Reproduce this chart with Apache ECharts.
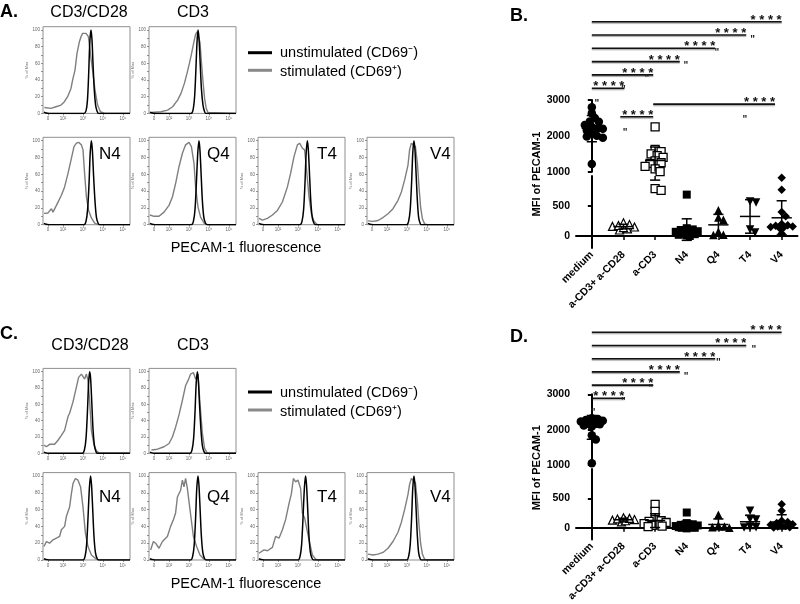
<!DOCTYPE html>
<html><head><meta charset="utf-8">
<script src="https://cdn.jsdelivr.net/npm/echarts@6/dist/echarts.min.js"></script>
<style>html,body{margin:0;padding:0;background:#fff}#c{width:800px;height:604px}</style>
</head><body><div id="c"></div><script>
const FONT = "'Liberation Sans', Arial, Helvetica, sans-serif";

// ---------------- Histogram data: [position in decades (0 ->"0", 1->10^2 ... 4->10^5), % of Max]
const histTickVals = [0.25, 1, 2, 3, 4];
const histTickLabels = ['0', '10²', '10³', '10⁴', '10⁵'];
const histYTicks = [0, 20, 40, 60, 80, 100];

const A_CD3CD28_stim = [[0.07,7],[0.4,6],[0.65,8],[0.9,10],[1.07,14],[1.23,20],[1.4,30],[1.48,40],[1.6,52],[1.7,72],[1.82,86],[1.9,92],[1.98,96],[2.07,98],[2.15,96],[2.2,98],[2.27,92],[2.33,80],[2.4,66],[2.5,48],[2.6,28],[2.73,10],[2.87,2],[3.07,0],[4.35,0]];
const A_CD3CD28_unst = [[0.05,1.5],[0.15,0.5],[0.3,0],[2.05,0],[2.15,3],[2.22,15],[2.28,45],[2.34,85],[2.4,100],[2.45,88],[2.5,60],[2.56,30],[2.63,10],[2.7,3],[2.78,0],[4.35,0]];
const A_CD3_stim = [[0.1,1],[0.6,2],[0.93,4],[1.18,8],[1.43,16],[1.6,24],[1.77,36],[1.9,48],[2.02,60],[2.13,72],[2.23,84],[2.32,94],[2.4,98],[2.48,97],[2.55,85],[2.62,62],[2.7,38],[2.78,18],[2.86,6],[2.95,1],[3.05,0],[4.35,0]];
const A_CD3_unst = [[0.05,1.5],[0.15,0.5],[0.3,0],[2.1,0],[2.2,4],[2.28,20],[2.34,50],[2.4,85],[2.45,100],[2.5,90],[2.56,60],[2.62,30],[2.7,10],[2.78,2],[2.85,0],[4.35,0]];
const A_N4_stim = [[0.05,13.5],[0.25,14],[0.42,19],[0.5,15],[0.67,23],[0.92,35],[1.08,45],[1.25,61],[1.42,79],[1.55,93],[1.67,97],[1.78,98],[1.92,95],[2.0,89],[2.08,61],[2.17,33],[2.28,17],[2.42,8],[2.58,2],[2.75,0],[4.35,0]];
const A_N4_unst = [[0.05,1.5],[0.15,0.5],[0.3,0],[2.05,0],[2.15,4],[2.23,18],[2.3,48],[2.36,85],[2.42,100],[2.47,88],[2.53,58],[2.6,28],[2.67,9],[2.75,2],[2.83,0],[4.35,0]];
const A_Q4_stim = [[0.05,11.5],[0.25,10],[0.5,10],[0.75,15],[1.0,23],[1.17,33],[1.33,49],[1.5,69],[1.67,85],[1.83,95],[2.0,98],[2.12,93],[2.25,73],[2.33,45],[2.45,21],[2.58,9],[2.75,2],[2.92,0],[4.35,0]];
const A_Q4_unst = [[0.05,1.5],[0.15,0.5],[0.3,0],[2.12,0],[2.22,4],[2.3,18],[2.37,50],[2.44,86],[2.5,100],[2.55,88],[2.61,58],[2.67,28],[2.74,9],[2.82,2],[2.9,0],[4.35,0]];
const A_T4_stim = [[0.05,7.5],[0.22,5.5],[0.47,7.5],[0.72,11.5],[0.97,17],[1.22,27],[1.47,45],[1.63,61],[1.8,81],[1.97,95],[2.08,97],[2.22,91],[2.33,89],[2.43,65],[2.55,33],[2.67,13],[2.8,4],[2.97,0],[4.35,0]];
const A_T4_unst = [[0.05,1.5],[0.15,0.5],[0.3,0],[2.1,0],[2.2,4],[2.28,18],[2.35,50],[2.41,86],[2.47,100],[2.52,88],[2.58,58],[2.64,28],[2.71,9],[2.79,2],[2.87,0],[4.35,0]];
const A_V4_stim = [[0.05,4.5],[0.3,4],[0.55,5],[0.8,8.5],[1.05,13],[1.3,19],[1.55,29],[1.72,39],[1.88,53],[2.05,71],[2.13,89],[2.22,97],[2.3,98],[2.42,93],[2.52,73],[2.6,45],[2.68,21],[2.77,7],[2.88,1],[3.0,0],[4.35,0]];
const A_V4_unst = [[0.05,1.5],[0.15,0.5],[0.3,0],[1.98,0],[2.08,4],[2.16,18],[2.23,50],[2.29,86],[2.35,100],[2.4,88],[2.46,58],[2.52,28],[2.58,9],[2.65,2],[2.72,0],[4.35,0]];

const C_CD3CD28_stim = [[0.05,10],[0.17,8],[0.33,11],[0.58,11],[0.75,16],[0.92,22],[1.08,28],[1.25,45],[1.33,49],[1.5,63],[1.67,81],[1.78,93],[1.92,97],[2.0,94],[2.08,91],[2.17,97],[2.25,89],[2.33,65],[2.42,28],[2.55,10],[2.67,3],[2.83,0],[4.35,0]];
const C_CD3CD28_unst = [[0.05,1.5],[0.15,0.5],[0.3,0],[1.97,0],[2.07,4],[2.15,18],[2.22,50],[2.28,86],[2.33,100],[2.38,92],[2.44,62],[2.5,30],[2.57,10],[2.65,2],[2.73,0],[4.35,0]];
const C_CD3_stim = [[0.12,4],[0.42,5],[0.75,8],[1.0,12],[1.17,20],[1.33,32],[1.5,47],[1.67,65],[1.83,83],[1.95,89],[2.08,97],[2.22,99],[2.33,91],[2.45,97],[2.55,61],[2.67,24],[2.78,6],[2.92,0],[4.35,0]];
const C_CD3_unst = [[0.05,1.5],[0.15,0.5],[0.3,0],[2.05,0],[2.15,4],[2.23,18],[2.3,50],[2.36,86],[2.42,100],[2.47,88],[2.53,58],[2.6,28],[2.67,9],[2.75,2],[2.83,0],[4.35,0]];
const C_N4_stim = [[0.05,16],[0.17,22],[0.33,20],[0.5,24],[0.67,26],[0.83,28],[0.92,36],[1.08,40],[1.17,52],[1.33,63],[1.42,79],[1.5,91],[1.62,97],[1.75,95],[1.88,87],[2.0,63],[2.12,32],[2.25,16],[2.42,6],[2.67,1],[2.8,0],[4.35,0]];
const C_N4_unst = [[0.05,1.5],[0.15,0.5],[0.3,0],[2.0,0],[2.1,4],[2.18,18],[2.25,50],[2.32,86],[2.38,100],[2.43,88],[2.49,58],[2.55,28],[2.62,9],[2.7,2],[2.78,0],[4.35,0]];
const C_Q4_stim = [[0.08,12],[0.22,22],[0.33,20],[0.5,14],[0.67,22],[0.92,28],[1.08,40],[1.22,48],[1.33,56],[1.42,75],[1.58,83],[1.67,95],[1.75,87],[1.83,97],[1.92,85],[2.05,60],[2.22,28],[2.38,16],[2.55,6],[2.75,1],[2.9,0],[4.35,0]];
const C_Q4_unst = [[0.05,1.5],[0.15,0.5],[0.3,0],[2.08,0],[2.18,4],[2.26,18],[2.33,50],[2.39,86],[2.45,100],[2.5,88],[2.56,58],[2.62,28],[2.69,9],[2.77,2],[2.85,0],[4.35,0]];
const C_T4_stim = [[0.05,8],[0.3,12],[0.47,11],[0.72,15],[0.88,28],[1.05,26],[1.22,36],[1.38,48],[1.55,67],[1.67,79],[1.77,97],[1.88,93],[2.0,95],[2.13,85],[2.22,56],[2.33,50],[2.43,48],[2.55,24],[2.72,6],[2.88,1],[3.0,0],[4.35,0]];
const C_T4_unst = [[0.05,1.5],[0.15,0.5],[0.3,0],[2.0,0],[2.1,4],[2.18,18],[2.25,50],[2.32,86],[2.38,100],[2.43,88],[2.49,58],[2.55,28],[2.62,9],[2.7,2],[2.78,0],[4.35,0]];
const C_V4_stim = [[0.05,7],[0.3,6],[0.55,7],[0.8,9],[1.05,14],[1.3,22],[1.55,33],[1.72,45],[1.88,60],[2.05,78],[2.13,90],[2.22,97],[2.3,98],[2.42,92],[2.52,70],[2.6,42],[2.68,20],[2.77,7],[2.88,1],[3.0,0],[4.35,0]];
const C_V4_unst = [[0.05,1.5],[0.15,0.5],[0.3,0],[1.98,0],[2.08,4],[2.16,18],[2.23,50],[2.29,86],[2.35,100],[2.4,88],[2.46,58],[2.52,28],[2.58,9],[2.65,2],[2.72,0],[4.35,0]];

// ---------------- Scatter data (MFI of PECAM-1)
const categories = ['medium', 'a-CD3+ a-CD28', 'a-CD3', 'N4', 'Q4', 'T4', 'V4'];
const B_medium = [2800, 2630, 2500, 2400, 2390, 2300, 2250, 2210, 2200, 2150, 2070, 2000, 1980, 1950, 1215];
const B_cd3cd28 = [100, 120, 140, 150, 160, 175, 190, 220];
const B_cd3 = [2250, 1620, 1560, 1500, 1450, 1400, 1300, 1250, 1230, 1150, 1080, 1000, 790, 760];
const B_N4 = [690, 130, 110, 100, 80, 70, 60, 50, 40, 30, 20, 10, 0];
const B_Q4 = [430, 310, 270, 70, 20, 15];
const B_T4 = [575, 560, 110, 60];
const B_V4 = [970, 770, 400, 330, 200, 180, 170, 160, 150, 140, 130, 40];

const D_medium = [2320, 2300, 2270, 2250, 2230, 2210, 2190, 2170, 2150, 2120, 2090, 1840, 1720, 1050];
const D_cd3cd28 = [100, 120, 130, 140, 150, 160, 170];
const D_cd3 = [400, 280, 140, 120, 110, 90, 70, 50, 40, 30, 20];
const D_N4 = [260, 80, 60, 50, 40, 30, 30, 20, 10, 10, 0, 0, -10];
const D_Q4 = [220, 40, 20, 10, 0];
const D_T4 = [290, 150, 140, 20, 10, 5];
const D_V4 = [400, 290, 120, 100, 80, 60, 50, 40, 30, 20, 10, 5];

// significance brackets: [from category, to category, level]
const B_brackets = [[0, 6.0, 0], [0, 4.88, 1], [0, 3.9, 2], [0, 2.78, 3], [0, 1.94, 4], [0, 1.03, 5], [1.94, 5.79, 6.2], [0.9, 1.94, 7.15]];
const D_brackets = [[0, 6.0, 0], [0, 4.88, 1], [0, 3.9, 2], [0, 2.78, 3], [0, 1.94, 4], [0, 1.03, 5]];
const B_quotes = [[0.16, 6.02], [1.0, 4.93], [1.74, 4.08], [2.97, 3.13], [3.95, 2.18], [5.08, 1.17], [1.05, 8.14], [4.84, 7.19]];
const D_quotes = [[5.12, 1.17], [4.0, 2.17], [2.98, 3.23], [1.87, 4.07], [1.0, 5.05], [0.04, 5.89]];

// ---------------- build option
const grid = [], xAxis = [], yAxis = [], series = [], graphic = [];

function histLabel(v) {
  let best = 0;
  histTickVals.forEach((t, i) => { if (Math.abs(t - v) < Math.abs(histTickVals[best] - v)) best = i; });
  return histTickLabels[best];
}

function addHist(left, top, height, stim, unst) {
  const gi = grid.length;
  grid.push({left: left, top: top, width: 87, height: height, show: true, borderColor: '#8f8f8f', borderWidth: 1});
  const xi = xAxis.length, yi = yAxis.length;
  xAxis.push({type: 'value', gridIndex: gi, min: 0, max: 4.35, splitLine: {show: false}, axisLine: {show: false},
    axisTick: {show: true, customValues: histTickVals, length: 2, lineStyle: {color: '#777', width: 0.8}},
    axisLabel: {show: true, customValues: histTickVals, formatter: histLabel, fontSize: 4.5, color: '#666', margin: 3, fontFamily: FONT}});
  yAxis.push({type: 'value', gridIndex: gi, min: 0, max: 104, splitLine: {show: false}, axisLine: {show: false},
    axisTick: {show: true, customValues: [0, 10, 20, 30, 40, 50, 60, 70, 80, 90, 100], length: 2, lineStyle: {color: '#777', width: 0.8}},
    axisLabel: {show: true, customValues: histYTicks, fontSize: 4.5, color: '#666', margin: 3, fontFamily: FONT},
    name: '% of Max', nameLocation: 'middle', nameGap: 12, nameTextStyle: {fontSize: 4, color: '#777', fontFamily: FONT}});
  series.push({type: 'line', xAxisIndex: xi, yAxisIndex: yi, data: stim, showSymbol: false, silent: true,
    lineStyle: {color: '#7f7f7f', width: 1.4}, z: 2});
  series.push({type: 'line', xAxisIndex: xi, yAxisIndex: yi, data: unst, showSymbol: false, silent: true, smooth: 0.3,
    lineStyle: {color: '#000', width: 1.5}, z: 3});
}

const cols = [43, 149, 258, 367];
const histRows = [
  {top: 26.7, h: 86.7, panels: [[A_CD3CD28_stim, A_CD3CD28_unst], [A_CD3_stim, A_CD3_unst]]},
  {top: 137.3, h: 87.4, panels: [[A_N4_stim, A_N4_unst], [A_Q4_stim, A_Q4_unst], [A_T4_stim, A_T4_unst], [A_V4_stim, A_V4_unst]]},
  {top: 368.4, h: 84.9, panels: [[C_CD3CD28_stim, C_CD3CD28_unst], [C_CD3_stim, C_CD3_unst]]},
  {top: 472.6, h: 87.4, panels: [[C_N4_stim, C_N4_unst], [C_Q4_stim, C_Q4_unst], [C_T4_stim, C_T4_unst], [C_V4_stim, C_V4_unst]]}
];
histRows.forEach(r => r.panels.forEach((p, c) => addHist(cols[c], r.top, r.h, p[0], p[1])));

// ---------- scatter panels
const SC_LEFT = 576, SC_W = 221.5;
const markers = [
  {symbol: 'circle', size: 8.5, fill: '#000', bw: 0},
  {symbol: 'triangle', size: 8, fill: '#fff', bw: 1.2},
  {symbol: 'rect', size: 8, fill: '#fff', bw: 1.3},
  {symbol: 'rect', size: 8, fill: '#000', bw: 0},
  {symbol: 'triangle', size: 8.5, fill: '#000', bw: 0},
  {symbol: 'triangle', size: 8.5, fill: '#000', bw: 0, rotate: 180},
  {symbol: 'diamond', size: 8.5, fill: '#000', bw: 0}
];

function stats(a) {
  const m = a.reduce((s, v) => s + v, 0) / a.length;
  const sd = Math.sqrt(a.reduce((s, v) => s + (v - m) * (v - m), 0) / (a.length - 1));
  return [m, sd];
}

// horizontal spreading of points with equal values (bounded beeswarm)
function swarm(vals, pxOf, diam, pxPerUnit, maxOff) {
  const order = vals.map((v, i) => i).sort((a, b) => vals[b] - vals[a]);
  const placed = [], off = new Array(vals.length).fill(0);
  for (const i of order) {
    const y = pxOf(vals[i]);
    let chosen = null, bestS = 0, bestD = -1;
    for (let k = 0; k < 200; k++) {
      const s = k === 0 ? 0 : (k % 2 ? 1 : -1) * Math.ceil(k / 2);
      if (Math.abs(s) > maxOff) break;
      let dmin = Infinity;
      placed.forEach(p => { const d = Math.hypot(p.x - s, p.y - y); if (d < dmin) dmin = d; });
      if (dmin >= diam) { chosen = s; break; }
      if (dmin > bestD + 0.5) { bestD = dmin; bestS = s; }
    }
    if (chosen === null) chosen = bestS;
    placed.push({x: chosen, y: y});
    off[i] = chosen / pxPerUnit;
  }
  return off;
}

function errRender(params, api) {
  const i = api.value(0), m = api.value(1), s = api.value(2);
  const c = api.coord([i, m]), hi = api.coord([i, m + s]), lo = api.coord([i, m - s]);
  const hm = api.size([0.32, 0])[0], hc = api.size([0.16, 0])[0];
  const st = {stroke: '#000', lineWidth: 1.5};
  return {type: 'group', children: [
    {type: 'line', shape: {x1: c[0], y1: hi[1], x2: c[0], y2: lo[1]}, style: st},
    {type: 'line', shape: {x1: c[0] - hm, y1: c[1], x2: c[0] + hm, y2: c[1]}, style: st},
    {type: 'line', shape: {x1: c[0] - hc, y1: hi[1], x2: c[0] + hc, y2: hi[1]}, style: st},
    {type: 'line', shape: {x1: c[0] - hc, y1: lo[1], x2: c[0] + hc, y2: lo[1]}, style: st}
  ]};
}

function bracketRender(params, api) {
  const a = api.coord([api.value(0), api.value(2)]), b = api.coord([api.value(1), api.value(2)]);
  return {type: 'group', children: [
    {type: 'line', shape: {x1: a[0], y1: a[1], x2: b[0], y2: b[1]},
      style: {stroke: '#111', lineWidth: 1.6, shadowColor: 'rgba(0,0,0,0.35)', shadowOffsetY: 1.2, shadowBlur: 1}},
    {type: 'text', x: b[0], y: a[1] - 1.6,
      style: {text: '* * * *', fill: '#111', font: 'bold 13px ' + FONT, align: 'right', verticalAlign: 'middle'}}
  ]};
}

function quoteRender(params, api) {
  const p = api.coord([api.value(0), api.value(1)]);
  return {type: 'text', x: p[0], y: p[1] + 2.8,
    style: {text: '"', fill: '#222', font: 'bold 10px ' + FONT, align: 'center', verticalAlign: 'middle'}};
}

const plainNum = v => String(v);

function addScatter(cfg, groups, brackets, quotes) {
  // top segment (1000-3000)
  const gT = grid.length;
  grid.push({left: SC_LEFT, top: cfg.topTop, width: SC_W, height: cfg.topH});
  const xT = xAxis.length, yT = yAxis.length;
  xAxis.push({type: 'value', gridIndex: gT, min: -0.5, max: 6.5, show: false});
  yAxis.push({type: 'value', gridIndex: gT, min: 1000, max: 3000, interval: 1000, splitLine: {show: false},
    axisLine: {show: true, lineStyle: {color: '#000', width: 2}},
    axisTick: {show: true, length: 4, lineStyle: {color: '#000', width: 2}},
    axisLabel: {formatter: plainNum, color: '#000', fontWeight: 'bold', fontSize: 10.5, fontFamily: FONT, margin: 6}});
  // bottom segment (-200-1000)
  const gB = grid.length;
  grid.push({left: SC_LEFT, top: cfg.botTop, width: SC_W, height: cfg.botH});
  const xC = xAxis.length;
  xAxis.push({type: 'category', gridIndex: gB, data: categories, boundaryGap: true,
    axisLine: {show: true, lineStyle: {color: '#000', width: 2}},
    axisTick: {show: true, alignWithLabel: true, length: 4, lineStyle: {color: '#000', width: 1.5}},
    axisLabel: {interval: 0, rotate: 45, color: '#000', fontWeight: 'bold', fontSize: 10.5, fontFamily: FONT, margin: 5}});
  const xB = xAxis.length;
  xAxis.push({type: 'value', gridIndex: gB, min: -0.5, max: 6.5, show: false});
  const yB = yAxis.length;
  yAxis.push({type: 'value', gridIndex: gB, min: -200, max: 1000, splitLine: {show: false},
    axisLine: {show: true, lineStyle: {color: '#000', width: 2}},
    axisTick: {show: true, customValues: [0, 500], length: 4, lineStyle: {color: '#000', width: 2}},
    axisLabel: {customValues: [0, 500], formatter: plainNum, color: '#000', fontWeight: 'bold', fontSize: 10.5, fontFamily: FONT, margin: 6}});
  // annotation
  const gA = grid.length;
  grid.push({left: SC_LEFT, top: cfg.annTop, width: SC_W, height: cfg.annH});
  const xA = xAxis.length, yA = yAxis.length;
  xAxis.push({type: 'value', gridIndex: gA, min: -0.5, max: 6.5, show: false});
  yAxis.push({type: 'value', gridIndex: gA, min: 0, max: cfg.annMax, inverse: true, show: false});

  const pxOf = v => v >= 1000 ? cfg.topTop + (3000 - v) / 2000 * cfg.topH : cfg.botTop + (1000 - v) / 1200 * cfg.botH;
  const pxPerUnit = SC_W / 7;
  const errT = [], errB = [];
  groups.forEach((vals, i) => {
    const mk = markers[i];
    const off = swarm(vals, pxOf, 5.5, pxPerUnit, 11);
    const top = [], bot = [];
    vals.forEach((v, k) => (v >= 1000 ? top : bot).push([i + off[k], v]));
    const base = {type: 'scatter', symbol: mk.symbol, symbolSize: mk.size, symbolRotate: mk.rotate || 0, silent: true,
      itemStyle: {color: mk.fill, borderColor: '#000', borderWidth: mk.bw, opacity: 1}, z: 3};
    if (top.length) series.push(Object.assign({}, base, {xAxisIndex: xT, yAxisIndex: yT, data: top}));
    series.push(Object.assign({}, base, {xAxisIndex: xB, yAxisIndex: yB, data: bot},
      i === 0 ? {markLine: {silent: true, symbol: 'none', label: {show: false}, data: [{yAxis: 0}],
        lineStyle: {type: [3, 3], color: '#000', width: 2}, z: 1}} : {}));
    const st = stats(vals);
    errT.push([i, st[0], st[1]]); errB.push([i, st[0], st[1]]);
  });
  series.push({type: 'custom', xAxisIndex: xT, yAxisIndex: yT, data: errT, renderItem: errRender, clip: true, silent: true, z: 5});
  series.push({type: 'custom', xAxisIndex: xB, yAxisIndex: yB, data: errB, renderItem: errRender, clip: true, silent: true, z: 5});
  series.push({type: 'custom', xAxisIndex: xA, yAxisIndex: yA, data: brackets, renderItem: bracketRender, silent: true, z: 5});
  series.push({type: 'custom', xAxisIndex: xA, yAxisIndex: yA, data: quotes, renderItem: quoteRender, silent: true, z: 5});

  graphic.push({type: 'text', x: 537, y: cfg.yTitle, rotation: Math.PI / 2,
    style: {text: 'MFI of PECAM-1', font: 'bold 11px ' + FONT, fill: '#000', align: 'center', verticalAlign: 'middle'}});
}

addScatter({topTop: 100, topH: 71.7, botTop: 176, botH: 72, annTop: 21.7, annH: 95.1, annMax: 7.15, yTitle: 174},
  [B_medium, B_cd3cd28, B_cd3, B_N4, B_Q4, B_T4, B_V4], B_brackets, B_quotes);
addScatter({topTop: 394.3, topH: 70.7, botTop: 469, botH: 72, annTop: 332.3, annH: 66, annMax: 5, yTitle: 467.7},
  [D_medium, D_cd3cd28, D_cd3, D_N4, D_Q4, D_T4, D_V4], D_brackets, D_quotes);

// ---------- texts
function txt(t, x, y, size, opts) {
  opts = opts || {};
  graphic.push({type: 'text', x: x, y: y, z: 10,
    style: {text: t, font: (opts.bold ? 'bold ' : '') + size + 'px ' + FONT, fill: opts.fill || '#000',
      align: opts.align || 'left', verticalAlign: 'middle'}});
}
txt('A.', 0, 12, 18, {bold: true});
txt('B.', 510, 16, 18, {bold: true});
txt('C.', 0, 334.5, 18, {bold: true});
txt('D.', 510, 337, 18, {bold: true});
txt('CD3/CD28', 89, 12.5, 16, {align: 'center'});
txt('CD3', 193, 12.5, 16, {align: 'center'});
txt('CD3/CD28', 90, 345.3, 16, {align: 'center'});
txt('CD3', 193, 345.3, 16, {align: 'center'});
[154, 497.7].forEach(y => {
  txt('N4', 99, y, 17); txt('Q4', 207, y, 17); txt('T4', 317, y, 17); txt('V4', 430, y, 17);
});
txt('PECAM-1 fluorescence', 246, 248, 14.5, {align: 'center'});
txt('PECAM-1 fluorescence', 246, 584, 14.5, {align: 'center'});
function legend(y1, y2) {
  graphic.push({type: 'line', shape: {x1: 248, y1: y1, x2: 272, y2: y1}, style: {stroke: '#000', lineWidth: 3}, z: 10});
  graphic.push({type: 'line', shape: {x1: 248, y1: y2, x2: 272, y2: y2}, style: {stroke: '#8a8a8a', lineWidth: 3}, z: 10});
  txt('unstimulated (CD69⁻)', 280, y1 + 0.5, 14.5);
  txt('stimulated (CD69⁺)', 280, y2 + 1.5, 14.5);
}
legend(52.7, 70.3);
legend(392, 410);

const chart = echarts.init(document.getElementById('c'));
chart.setOption({animation: false, backgroundColor: '#fff', grid, xAxis, yAxis, series, graphic});
</script></body></html>
